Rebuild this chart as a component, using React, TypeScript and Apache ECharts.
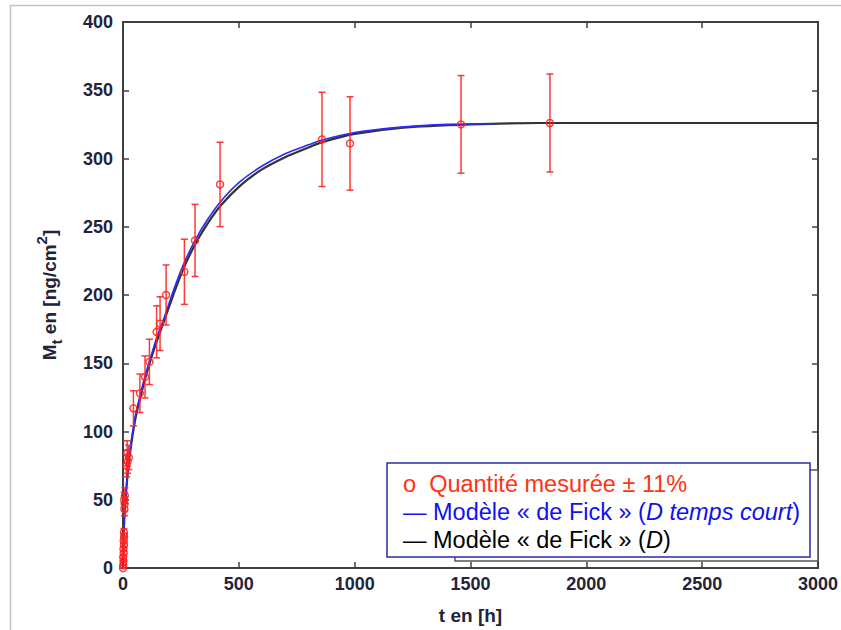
import React, { useEffect, useRef } from "react";
import * as echarts from "echarts";

// Measured quantity (t in h, M in ng/cm²), error ±11 %
const measT = [0, 1, 2, 1, 3, 2, 4, 3, 5, 4, 6, 7, 5, 8, 15, 20, 25, 18, 45, 73, 95, 114, 145, 160, 186, 265, 311, 419, 859, 980, 1459, 1843];
const measM = [0, 2, 5, 8, 11, 14, 17, 20, 23, 26, 43, 47, 50, 53, 75, 78, 81, 84, 117, 128, 140, 151, 173, 179, 200, 217, 240, 281, 314, 311, 325, 326];
const errFrac = 0.11;

// Fick model (D)
const blackT = [0, 1, 3, 6, 10, 17, 30, 53, 75, 96, 124, 150, 175, 217, 260, 311, 360, 419, 505, 600, 700, 800, 860, 1000, 1200, 1500, 1800, 3000];
const blackM = [0, 15, 26, 37, 47, 63, 84, 109, 125, 139, 155, 168, 180, 200, 219, 237, 251, 265, 280, 292, 301, 308, 312, 318, 322.5, 325, 326, 326];

// Fick model (D temps court)
const blueT = [0, 1, 3, 6, 10, 17, 30, 53, 75, 96, 124, 150, 175, 217, 260, 311, 360, 419, 505, 600, 700, 800, 860, 1000, 1200, 1400, 1600];
const blueM = [0, 15, 27, 38, 48, 64, 86, 111, 127, 141, 157, 171, 182, 203, 222, 240, 254, 268, 283, 294.5, 303.5, 310, 313.5, 319, 323, 325, 325.5];

const xMin = 0, xMax = 3000, xStep = 500;
const yMin = 0, yMax = 400, yStep = 50;

const FONT = "'Liberation Sans', Arial, sans-serif";
const AXIS_COLOR = "#404040";
const LABEL_COLOR = "#23233a";
const RED = "#ff2222";

export default function App() {
  const ref = useRef<HTMLDivElement>(null);
  useEffect(() => {
    if (!ref.current) return;
    const chart = echarts.init(ref.current, null, { renderer: "svg" });

    const axisCommon = {
      type: "value" as const,
      splitLine: { show: false },
      axisLine: { show: true, onZero: false, lineStyle: { color: AXIS_COLOR, width: 2 } },
      axisTick: { show: true, inside: true, length: 6, lineStyle: { color: AXIS_COLOR, width: 1.5 } },
    };
    const tickLabel = {
      color: LABEL_COLOR, fontSize: 18, fontFamily: FONT, fontWeight: "bold" as const,
      formatter: (v: number) => String(v),
    };

    const meas = measT.map((t, i) => [t, measM[i]]);
    const errs = measT.map((t, i) => [t, measM[i], measM[i] * (1 - errFrac), measM[i] * (1 + errFrac)]);

    chart.setOption({
      animation: false,
      backgroundColor: "#ffffff",
      grid: { left: 123, top: 22, right: 23, bottom: 60, containLabel: false },
      xAxis: [
        {
          ...axisCommon,
          min: xMin, max: xMax, interval: xStep, position: "bottom",
          axisLabel: { ...tickLabel, margin: 7 },
          name: "t en [h]", nameLocation: "middle", nameGap: 38,
          nameTextStyle: { color: LABEL_COLOR, fontSize: 19, fontFamily: FONT, fontWeight: "bold" },
        },
        { ...axisCommon, min: xMin, max: xMax, interval: xStep, position: "top", axisLabel: { show: false } },
      ],
      yAxis: [
        {
          ...axisCommon,
          min: yMin, max: yMax, interval: yStep, position: "left",
          axisLabel: { ...tickLabel, margin: 10 },
          name: "{n|M}{sub|t}{n| en [ng/cm}{sup|2}{n|]}",
          nameLocation: "middle", nameGap: 59, nameRotate: 90,
          nameTextStyle: {
            color: LABEL_COLOR, fontFamily: FONT, fontSize: 19,
            rich: {
              n: { fontSize: 19, fontFamily: FONT, fontWeight: "bold", color: LABEL_COLOR, lineHeight: 30, verticalAlign: "middle" },
              sub: { fontSize: 15, fontFamily: FONT, fontWeight: "bold", color: LABEL_COLOR, lineHeight: 30, verticalAlign: "bottom" },
              sup: { fontSize: 15, fontFamily: FONT, fontWeight: "bold", color: LABEL_COLOR, lineHeight: 30, verticalAlign: "top" },
            },
          },
        },
        { ...axisCommon, min: yMin, max: yMax, interval: yStep, position: "right", axisLabel: { show: false } },
      ],
      series: [
        {
          type: "line", name: "fick", data: blackT.map((t, i) => [t, blackM[i]]),
          showSymbol: false, symbol: "none", smooth: 0.3,
          lineStyle: { color: "#333333", width: 2.2 }, z: 2,
        },
        {
          type: "line", name: "fickCourt", data: blueT.map((t, i) => [t, blueM[i]]),
          showSymbol: false, symbol: "none", smooth: 0.3,
          lineStyle: { color: "#2a2aff", width: 1.6 }, z: 3,
        },
        {
          type: "custom", name: "err", data: errs, z: 4,
          encode: { x: 0, y: [1, 2, 3] },
          renderItem: (params: any, api: any) => {
            const x = api.value(0);
            const lo = api.coord([x, api.value(2)]);
            const hi = api.coord([x, api.value(3)]);
            const w = 3.5;
            const st = { stroke: RED, lineWidth: 1.5, opacity: 0.9 };
            return {
              type: "group",
              children: [
                { type: "line", shape: { x1: lo[0], y1: lo[1], x2: hi[0], y2: hi[1] }, style: st },
                { type: "line", shape: { x1: lo[0] - w, y1: lo[1], x2: lo[0] + w, y2: lo[1] }, style: st },
                { type: "line", shape: { x1: hi[0] - w, y1: hi[1], x2: hi[0] + w, y2: hi[1] }, style: st },
              ],
            };
          },
        },
        {
          type: "scatter", name: "meas", data: meas, symbol: "circle", symbolSize: 7, z: 5,
          itemStyle: { color: "rgba(255,255,255,0)", borderColor: RED, borderWidth: 1.4, opacity: 0.9 },
        },
      ],
      graphic: [
        {
          type: "polyline", silent: true,
          shape: { points: [[10.5, 640], [10.5, 5.5], [850, 5.5]] },
          style: { fill: "none", stroke: "#c4c4c4", lineWidth: 1.5 },
        },
        {
          type: "rect", silent: true, z: 10,
          shape: { x: 455, y: 470, width: 363, height: 91 },
          style: { fill: "#ffffff", stroke: "#555555", lineWidth: 1.5 },
        },
        {
          type: "rect", silent: true, z: 11,
          shape: { x: 387, y: 463, width: 423, height: 94 },
          style: { fill: "#ffffff", stroke: "#2a2aa8", lineWidth: 1.5 },
        },
        {
          type: "text", silent: true, z: 12, x: 403, y: 484,
          style: {
            text: "o  Quantité mesurée ± 11%",
            fill: "#ff3311", fontSize: 23.5, fontFamily: FONT, verticalAlign: "middle", align: "left",
          },
        },
        {
          type: "text", silent: true, z: 12, x: 403, y: 512,
          style: {
            text: "{n|— Modèle « de Fick » (}{i|D temps court}{n|)}",
            fill: "#1111ee", fontSize: 23.5, fontFamily: FONT, verticalAlign: "middle", align: "left",
            rich: {
              n: { fontSize: 23.5, fontFamily: FONT, fill: "#1111ee" },
              i: { fontSize: 23.5, fontFamily: FONT, fill: "#1111ee", fontStyle: "italic" },
            },
          },
        },
        {
          type: "text", silent: true, z: 12, x: 403, y: 540,
          style: {
            text: "{n|— Modèle « de Fick » (}{i|D}{n|)}",
            fill: "#000000", fontSize: 23.5, fontFamily: FONT, verticalAlign: "middle", align: "left",
            rich: {
              n: { fontSize: 23.5, fontFamily: FONT, fill: "#000000" },
              i: { fontSize: 23.5, fontFamily: FONT, fill: "#000000", fontStyle: "italic" },
            },
          },
        },
      ],
    });
    return () => chart.dispose();
  }, []);

  return (
    <div
      ref={ref}
      style={{ position: "absolute", left: 0, top: 0, width: 841, height: 630, background: "#fff" }}
    />
  );
}
